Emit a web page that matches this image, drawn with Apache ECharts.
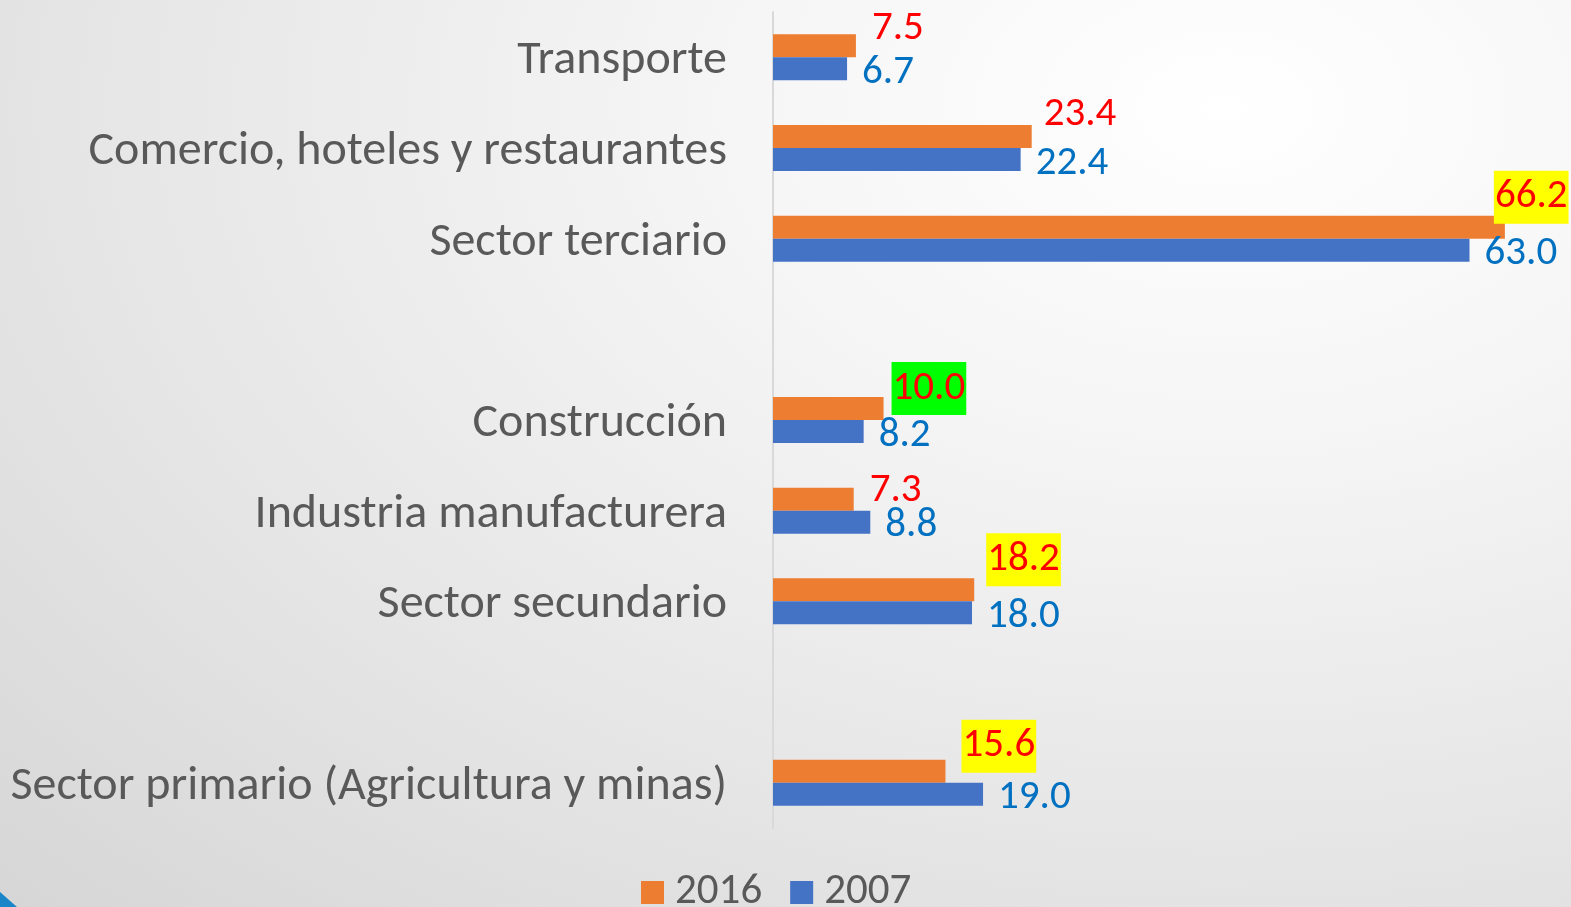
<!DOCTYPE html>
<html>
<head>
<meta charset="utf-8">
<script src="https://cdn.jsdelivr.net/npm/echarts@6/dist/echarts.min.js"></script>
<style>
    html, body { margin: 0; padding: 0; }
    body {
        width: 1571px; height: 907px; overflow: hidden;
        background: radial-gradient(ellipse at 78% 12%, #ffffff 0%, #f5f5f5 30%, #e6e6e6 65%, #d6d6d6 100%);
    }
    #chart { width: 1571px; height: 907px; }
</style>
</head>
<body>
<div id="chart"></div>
<script>
    // categorias de arriba hacia abajo ('' = hueco entre sectores)
    var categories = ['Transporte', 'Comercio, hoteles y restaurantes', 'Sector terciario', '',
        'Construcción', 'Industria manufacturera', 'Sector secundario', '',
        'Sector primario (Agricultura y minas)'];
    var values2016 = [7.5, 23.4, 66.2, null, 10.0, 7.3, 18.2, null, 15.6];
    var values2007 = [6.7, 22.4, 63.0, null, 8.2, 8.8, 18.0, null, 19.0];
    // resaltado de etiquetas 2016
    var highlight2016 = [null, null, '#FFFF00', null, '#00FF00', null, '#FFFF00', null, '#FFFF00'];
    // desplazamiento de etiquetas 2016 (movidas a mano en el original)
    var offsets2016 = [[16, -17], [12, -22], [-11, -30], null, [8, -20], [16, -8], [12, -30], null, [16, -25]];

    var FONT = "Carlito, Lato, sans-serif";

    var data2016 = values2016.map(function (v, i) {
        if (v === null) return null;
        var lbl = { offset: offsets2016[i] };
        if (highlight2016[i]) {
            lbl.backgroundColor = highlight2016[i];
            lbl.padding = [6, 1, 3, 1];
        }
        return { value: v, label: lbl };
    });

    var chart = echarts.init(document.getElementById('chart'));
    chart.setOption({
        backgroundColor: 'transparent',
        animation: false,
        grid: { left: 773, right: 2, top: 12, bottom: 79 },
        legend: {
            bottom: -12,
            left: 636,
            itemWidth: 23,
            itemHeight: 23,
            itemGap: 28,
            icon: 'rect',
            textStyle: { fontFamily: FONT, fontSize: 43, color: '#595959', padding: [0, 0, 0, 6] },
            data: ['2016', '2007']
        },
        xAxis: { type: 'value', min: 0, max: 72, show: false },
        yAxis: {
            type: 'category',
            inverse: true,
            data: categories,
            axisLine: { lineStyle: { color: '#d9d9d9', width: 2 } },
            axisTick: { show: false },
            axisLabel: {
                margin: 46,
                formatter: function (v) { return v ? '{c|' + v + '}' : ''; },
                rich: { c: { fontFamily: FONT, fontSize: 48, color: '#595959', padding: [8, 0, 0, 0] } }
            }
        },
        series: [
            {
                name: '2016',
                type: 'bar',
                barWidth: 23,
                barGap: '0%',
                itemStyle: { color: '#ED7D31' },
                label: {
                    show: true, position: 'right', distance: 0,
                    fontFamily: FONT, fontSize: 41, lineHeight: 44, color: '#FF0000',
                    formatter: function (p) { return p.value.toFixed(1); }
                },
                data: data2016
            },
            {
                name: '2007',
                type: 'bar',
                barWidth: 23,
                itemStyle: { color: '#4472C4' },
                label: {
                    show: true, position: 'right', distance: 15, offset: [0, 4],
                    fontFamily: FONT, fontSize: 41, lineHeight: 44, color: '#0070C0',
                    formatter: function (p) { return p.value.toFixed(1); }
                },
                data: values2007
            }
        ],
        graphic: [{
            type: 'polygon',
            shape: { points: [[0, 892], [17, 907], [0, 907]] },
            style: { fill: '#1A86C8' }
        }]
    });
</script>
</body>
</html>
